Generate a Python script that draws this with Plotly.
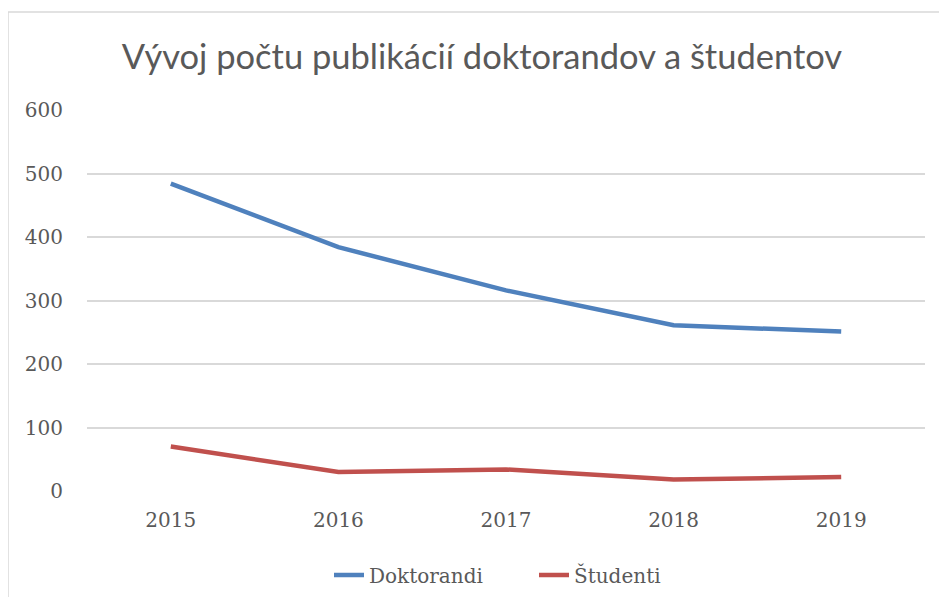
import plotly.graph_objects as go

years = ["2015", "2016", "2017", "2018", "2019"]
doktorandi = [484, 384, 316, 261, 251]
studenti = [70, 30, 34, 18, 22]
y_ticks = [0, 100, 200, 300, 400, 500, 600]

title_text = "Vývoj počtu publikácií doktorandov a študentov"
text_color = "#595959"
grid_color = "#D9D9D9"

fig = go.Figure()
fig.add_trace(go.Scatter(x=years, y=doktorandi, mode="lines", name="Doktorandi",
                         line=dict(color="#4F81BD", width=4.5)))
fig.add_trace(go.Scatter(x=years, y=studenti, mode="lines", name="Študenti",
                         line=dict(color="#C0504D", width=4.5)))

# page has an 8px body margin; work in screen pixels and convert
OFF = 8
W, H = 931, 589
L, T = 87 - OFF, 110 - OFF
R = W - (925 - OFF)
B = H - (491 - OFF)
pw, ph = W - L - R, H - T - B

def px_x(p):
    return (p - OFF - L) / pw

def px_y(p):
    return (H - B - (p - OFF)) / ph

fig.add_shape(type="rect", xref="paper", yref="paper",
              x0=px_x(8), x1=px_x(980), y0=px_y(12), y1=px_y(640),
              line=dict(color=grid_color, width=1.5), fillcolor="rgba(0,0,0,0)",
              layer="below")

fig.update_layout(
    width=W, height=H,
    margin=dict(l=L, r=R, t=T, b=B, autoexpand=False),
    paper_bgcolor="white", plot_bgcolor="white",
    title=dict(text=title_text, x=(482 - OFF) / W, xref="container", xanchor="center",
               y=1 - (57 - OFF) / H, yref="container", yanchor="middle",
               font=dict(family="Lato", size=34.5, color=text_color)),
    font=dict(family="DejaVu Serif", size=20, color=text_color),
    showlegend=True,
    legend=dict(orientation="h", xref="container", x=(329 - OFF) / W, xanchor="left",
                yref="container", y=1 - (575 - OFF) / H, yanchor="middle",
                entrywidth=160, entrywidthmode="pixels",
                font=dict(family="DejaVu Serif", size=20, color=text_color),
                bgcolor="rgba(0,0,0,0)"),
    xaxis=dict(type="category", range=[-0.5, 4.5], showgrid=False, showline=False,
               ticks="", zeroline=False, ticklabelstandoff=15),
    yaxis=dict(range=[0, 600], tickvals=y_ticks, showgrid=True, gridcolor=grid_color,
               gridwidth=1.5, zeroline=False, showline=False, ticks="", ticklabelstandoff=23),
)

fig.write_html("out.html")
